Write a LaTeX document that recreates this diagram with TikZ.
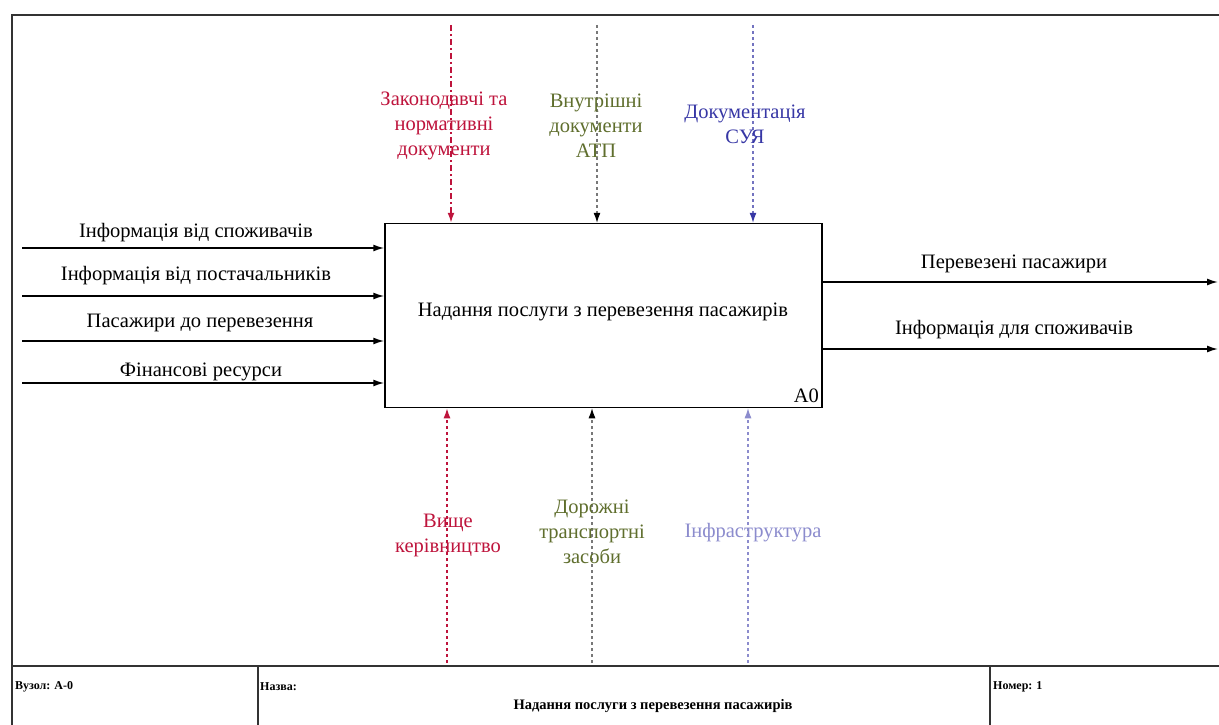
\documentclass[tikz,border=0pt]{standalone}
\usepackage{fontspec}
\setmainfont{Liberation Serif}
\usetikzlibrary{arrows.meta}
\definecolor{cred}{RGB}{190,20,60}
\definecolor{colive}{RGB}{95,110,45}
\definecolor{cblue}{RGB}{55,55,165}
\definecolor{clight}{RGB}{140,140,205}
\definecolor{cgrey}{RGB}{120,120,120}
\begin{document}
\begin{tikzpicture}[x=1pt,y=-1pt,
  frame/.style={line width=1.6pt, draw=black!80},
  arr/.style={-{Latex[length=11pt,width=7pt]}, line width=1.5pt},
  ctl/.style={-{Latex[length=10pt,width=7pt]}, line width=1.1pt},
  lbl/.style={font=\fontsize{20.5}{25}\selectfont, inner sep=0pt, align=center},
  foot/.style={font=\bfseries\fontsize{12}{14}\selectfont, inner sep=0pt, anchor=west},
]
\useasboundingbox (0,0) rectangle (1219,725);
% frame
\draw[frame] (1219,15) -- (12,15) -- (12,725);
\draw[frame] (12,666) -- (1219,666);
\draw[frame] (258,666) -- (258,725);
\draw[frame] (990,666) -- (990,725);
% main box
\node[draw, line width=1.5pt, minimum width=437pt, minimum height=184pt, inner sep=0pt] (box) at (603.5,315.5) {};
\node[lbl] (title) at (603,312) {Надання послуги з перевезення пасажирів};
\node[lbl, anchor=south east] (a0) at (819,403) {A0};
% inputs
\coordinate (i1) at (22,248);
\coordinate (i2) at (22,296);
\coordinate (i3) at (22,341);
\coordinate (i4) at (22,383);
\draw[arr] (i1) -- (i1 -| box.west);
\draw[arr] (i2) -- (i2 -| box.west);
\draw[arr] (i3) -- (i3 -| box.west);
\draw[arr] (i4) -- (i4 -| box.west);
\node[lbl] (li1) at (196,233) {Інформація від споживачів};
\node[lbl] (li2) at (196,276) {Інформація від постачальників};
\node[lbl] (li3) at (200,323) {Пасажири до перевезення};
\node[lbl] (li4) at (201,372) {Фінансові ресурси};
% outputs
\coordinate (o1) at (1218,282);
\coordinate (o2) at (1218,349);
\draw[arr] (o1 -| box.east) -- (o1);
\draw[arr] (o2 -| box.east) -- (o2);
\node[lbl] (lo1) at (1014,264) {Перевезені пасажири};
\node[lbl] (lo2) at (1014,330) {Інформація для споживачів};
% controls
\coordinate (c1) at (451,25);
\coordinate (c2) at (597,25);
\coordinate (c3) at (753,25);
\draw[ctl, cred, line width=1.6pt, dash pattern=on 6pt off 3pt on 2pt off 3pt] (c1) -- (c1 |- box.north);
\draw[ctl, cgrey, dashed, -{Latex[length=10pt,width=7pt,color=black]}] (c2) -- (c2 |- box.north);
\draw[ctl, cblue!70, dashed, -{Latex[length=10pt,width=7pt,color=cblue]}] (c3) -- (c3 |- box.north);
\node[lbl, text=cred] (lc1) at (444,126) {Законодавчі та\\нормативні\\документи};
\node[lbl, text=colive] (lc2) at (596,126) {Внутрішні\\документи\\АТП};
\node[lbl, text=cblue] (lc3) at (745,124) {Документація\\СУЯ};
% mechanisms
\coordinate (m1) at (447,663);
\coordinate (m2) at (592,663);
\coordinate (m3) at (748,663);
\draw[ctl, cred, line width=1.4pt, dashed] (m1) -- (m1 |- box.south);
\draw[ctl, cgrey, dashed, -{Latex[length=10pt,width=7pt,color=black]}] (m2) -- (m2 |- box.south);
\draw[ctl, clight, dashed] (m3) -- (m3 |- box.south);
\node[lbl, text=cred] (lm1) at (448,535) {Вище\\керівництво};
\node[lbl, text=colive] (lm2) at (592,532) {Дорожні\\транспортні\\засоби};
\node[lbl, text=clight] (lm3) at (753,533) {Інфраструктура};
% footer
\node[foot] (f1) at (15,687) {Вузол: А-0};
\node[foot] (f2) at (260,687) {Назва:};
\node[foot] (f3) at (993,687) {Номер: 1};
\node[font=\bfseries\fontsize{14.5}{16}\selectfont, inner sep=0pt] (f4) at (653,706) {Надання послуги з перевезення пасажирів};
\end{tikzpicture}
\end{document}
